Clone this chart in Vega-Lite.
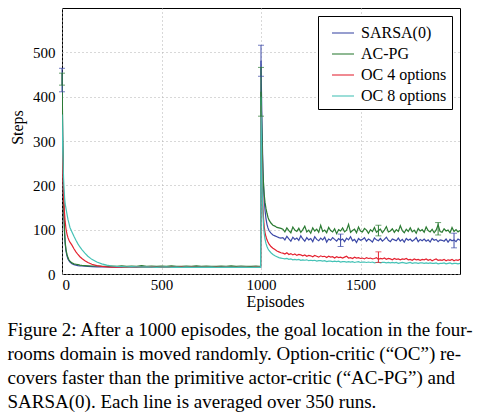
{
  "$schema": "https://vega.github.io/schema/vega-lite/v6.json",
  "width": 398,
  "height": 266,
  "autosize": "none",
  "padding": {"left": 62, "top": 8, "right": 31, "bottom": 145},
  "background": "white",
  "config": {
    "font": "Liberation Serif",
    "view": {"stroke": "black", "strokeWidth": 1},
    "axis": {
      "labelFont": "Liberation Serif",
      "labelFontSize": 15,
      "labelColor": "black",
      "titleFont": "Liberation Serif",
      "titleFontSize": 16,
      "titleFontWeight": "normal",
      "titleColor": "black",
      "grid": true,
      "gridColor": "#b0b0b0",
      "gridDash": [1, 3],
      "gridWidth": 1,
      "domain": false,
      "ticks": false
    },
    "legend": {
      "labelFont": "Liberation Serif",
      "labelFontSize": 16,
      "labelColor": "black"
    }
  },
  "title": {
    "text": [
      "Figure 2: After a 1000 episodes, the goal location in the four-",
      "rooms domain is moved randomly. Option-critic (“OC”) re-",
      "covers faster than the primitive actor-critic (“AC-PG”) and",
      "SARSA(0). Each line is averaged over 350 runs."
    ],
    "orient": "bottom",
    "anchor": "start",
    "frame": "bounds",
    "font": "Liberation Serif",
    "fontSize": 19,
    "fontWeight": "normal",
    "color": "black",
    "lineHeight": 24,
    "offset": 12,
    "dx": -2
  },
  "datasets": {
    "runs": [
      {"e":0,"s":450,"a":455,"o4":320,"o8":360},
      {"e":2,"s":370,"a":380,"o4":270,"o8":310},
      {"e":4,"s":290,"a":300,"o4":230,"o8":270},
      {"e":6,"s":220,"a":230,"o4":200,"o8":240},
      {"e":8,"s":165,"a":175,"o4":175,"o8":215},
      {"e":10,"s":128,"a":135,"o4":155,"o8":195},
      {"e":13,"s":90,"a":95,"o4":135,"o8":172},
      {"e":16,"s":68,"a":72,"o4":118,"o8":158},
      {"e":20,"s":52,"a":55,"o4":102,"o8":148},
      {"e":25,"s":41,"a":44,"o4":90,"o8":135},
      {"e":30,"s":34,"a":37,"o4":82,"o8":123},
      {"e":35,"s":30,"a":32,"o4":76,"o8":114},
      {"e":40,"s":27,"a":29,"o4":72,"o8":105},
      {"e":50,"s":23,"a":25,"o4":65,"o8":95},
      {"e":60,"s":21,"a":23,"o4":57,"o8":85},
      {"e":70,"s":20,"a":22,"o4":50,"o8":76},
      {"e":80,"s":19,"a":21,"o4":44,"o8":68},
      {"e":90,"s":18.5,"a":20,"o4":39,"o8":61},
      {"e":100,"s":18,"a":19.5,"o4":35,"o8":55},
      {"e":115,"s":17.5,"a":19,"o4":30,"o8":47},
      {"e":130,"s":17,"a":18.5,"o4":26,"o8":40},
      {"e":150,"s":16.5,"a":18,"o4":22,"o8":33},
      {"e":175,"s":16,"a":18,"o4":19,"o8":27},
      {"e":200,"s":16,"a":17.5,"o4":17,"o8":23},
      {"e":225,"s":16,"a":17.5,"o4":16,"o8":20},
      {"e":250,"s":15.5,"a":18,"o4":15.5,"o8":18},
      {"e":275,"s":16,"a":17,"o4":16,"o8":17},
      {"e":300,"s":15,"a":18.5,"o4":15.5,"o8":16.5},
      {"e":325,"s":16.5,"a":17,"o4":15,"o8":16},
      {"e":350,"s":15.5,"a":18,"o4":16,"o8":16.5},
      {"e":375,"s":15,"a":17.5,"o4":15.5,"o8":16},
      {"e":400,"s":16,"a":19,"o4":15,"o8":15.5},
      {"e":425,"s":15.5,"a":17,"o4":15.5,"o8":16},
      {"e":450,"s":15,"a":18,"o4":16,"o8":15.5},
      {"e":475,"s":16,"a":17.5,"o4":15,"o8":15},
      {"e":500,"s":15.5,"a":18,"o4":15.5,"o8":15.5},
      {"e":525,"s":15,"a":17,"o4":15,"o8":16},
      {"e":550,"s":15.5,"a":18.5,"o4":15.5,"o8":15},
      {"e":575,"s":16,"a":17.5,"o4":15,"o8":15.5},
      {"e":600,"s":15,"a":17,"o4":16,"o8":15},
      {"e":625,"s":15.5,"a":18,"o4":15,"o8":15.5},
      {"e":650,"s":15,"a":17.5,"o4":15.5,"o8":15},
      {"e":675,"s":16,"a":18.5,"o4":15,"o8":15},
      {"e":700,"s":15.5,"a":17,"o4":15.5,"o8":15.5},
      {"e":725,"s":15,"a":18,"o4":15,"o8":15},
      {"e":750,"s":15.5,"a":17.5,"o4":15,"o8":15.5},
      {"e":775,"s":15,"a":17,"o4":15.5,"o8":15},
      {"e":800,"s":16,"a":18,"o4":15,"o8":15},
      {"e":825,"s":15,"a":17.5,"o4":15.5,"o8":15.5},
      {"e":850,"s":15.5,"a":18.5,"o4":15,"o8":15},
      {"e":875,"s":15,"a":17,"o4":15,"o8":15},
      {"e":900,"s":15.5,"a":18,"o4":15.5,"o8":15.5},
      {"e":925,"s":15,"a":17.5,"o4":15,"o8":15},
      {"e":950,"s":15.5,"a":17,"o4":15,"o8":15},
      {"e":975,"s":15,"a":18,"o4":15.5,"o8":15},
      {"e":990,"s":15,"a":17.5,"o4":15,"o8":15},
      {"e":998,"s":15,"a":17.5,"o4":15,"o8":15},
      {"e":1000,"s":481,"a":411,"o4":380,"o8":400},
      {"e":1002,"s":420,"a":370,"o4":310,"o8":310},
      {"e":1004,"s":365,"a":330,"o4":250,"o8":240},
      {"e":1006,"s":315,"a":290,"o4":205,"o8":190},
      {"e":1008,"s":272,"a":255,"o4":172,"o8":157},
      {"e":1010,"s":235,"a":228,"o4":148,"o8":133},
      {"e":1013,"s":197,"a":200,"o4":124,"o8":108},
      {"e":1016,"s":168,"a":180,"o4":107,"o8":92},
      {"e":1020,"s":145,"a":162,"o4":94,"o8":79},
      {"e":1025,"s":125,"a":148,"o4":84,"o8":69},
      {"e":1030,"s":112,"a":137,"o4":77,"o8":62},
      {"e":1035,"s":104,"a":128,"o4":72,"o8":57},
      {"e":1040,"s":98,"a":122,"o4":68,"o8":53},
      {"e":1050,"s":92,"a":115,"o4":62,"o8":48},
      {"e":1060,"s":88,"a":110,"o4":58,"o8":44},
      {"e":1070,"s":86,"a":108,"o4":55,"o8":41},
      {"e":1080,"s":84,"a":105,"o4":52,"o8":39},
      {"e":1090,"s":82,"a":104,"o4":50,"o8":37},
      {"e":1100,"s":81,"a":103,"o4":48,"o8":36},
      {"e":1110,"s":82,"a":101,"o4":47,"o8":35},
      {"e":1120,"s":77,"a":95,"o4":45,"o8":34},
      {"e":1130,"s":85,"a":104,"o4":48,"o8":35},
      {"e":1140,"s":79,"a":98,"o4":44,"o8":33},
      {"e":1150,"s":74,"a":93,"o4":46,"o8":34},
      {"e":1160,"s":83,"a":106,"o4":43,"o8":32},
      {"e":1170,"s":78,"a":99,"o4":45,"o8":33},
      {"e":1180,"s":81,"a":96,"o4":42,"o8":32},
      {"e":1190,"s":76,"a":103,"o4":44,"o8":33},
      {"e":1200,"s":86,"a":94,"o4":43,"o8":31},
      {"e":1210,"s":79,"a":100,"o4":41,"o8":32},
      {"e":1220,"s":74,"a":108,"o4":43,"o8":31},
      {"e":1230,"s":82,"a":95,"o4":40,"o8":32},
      {"e":1240,"s":77,"a":99,"o4":42,"o8":30},
      {"e":1250,"s":80,"a":92,"o4":41,"o8":31},
      {"e":1260,"s":73,"a":104,"o4":39,"o8":30},
      {"e":1270,"s":84,"a":97,"o4":42,"o8":31},
      {"e":1280,"s":78,"a":101,"o4":40,"o8":29},
      {"e":1290,"s":75,"a":94,"o4":38,"o8":30},
      {"e":1300,"s":81,"a":110,"o4":41,"o8":30},
      {"e":1310,"s":77,"a":96,"o4":39,"o8":29},
      {"e":1320,"s":83,"a":99,"o4":40,"o8":30},
      {"e":1330,"s":72,"a":93,"o4":37,"o8":28},
      {"e":1340,"s":79,"a":105,"o4":40,"o8":29},
      {"e":1350,"s":76,"a":98,"o4":38,"o8":29},
      {"e":1360,"s":82,"a":95,"o4":39,"o8":28},
      {"e":1370,"s":78,"a":102,"o4":36,"o8":29},
      {"e":1380,"s":74,"a":91,"o4":39,"o8":28},
      {"e":1390,"s":80,"a":100,"o4":37,"o8":29},
      {"e":1400,"s":76,"a":97,"o4":38,"o8":27},
      {"e":1410,"s":79,"a":104,"o4":36,"o8":28},
      {"e":1420,"s":73,"a":95,"o4":38,"o8":28},
      {"e":1430,"s":81,"a":99,"o4":40,"o8":27},
      {"e":1440,"s":77,"a":112,"o4":36,"o8":28},
      {"e":1450,"s":84,"a":94,"o4":37,"o8":27},
      {"e":1460,"s":75,"a":98,"o4":35,"o8":28},
      {"e":1470,"s":78,"a":101,"o4":38,"o8":26},
      {"e":1480,"s":71,"a":93,"o4":36,"o8":27},
      {"e":1490,"s":80,"a":106,"o4":37,"o8":28},
      {"e":1500,"s":76,"a":97,"o4":35,"o8":26},
      {"e":1510,"s":78,"a":95,"o4":36,"o8":27},
      {"e":1520,"s":82,"a":103,"o4":34,"o8":27},
      {"e":1530,"s":74,"a":99,"o4":37,"o8":26},
      {"e":1540,"s":79,"a":92,"o4":35,"o8":27},
      {"e":1550,"s":76,"a":100,"o4":36,"o8":26},
      {"e":1560,"s":72,"a":96,"o4":34,"o8":27},
      {"e":1570,"s":81,"a":105,"o4":35,"o8":25},
      {"e":1580,"s":77,"a":94,"o4":37,"o8":26},
      {"e":1590,"s":75,"a":98,"o4":33,"o8":27},
      {"e":1600,"s":80,"a":101,"o4":35,"o8":25},
      {"e":1610,"s":74,"a":93,"o4":34,"o8":26},
      {"e":1620,"s":78,"a":99,"o4":36,"o8":26},
      {"e":1630,"s":83,"a":107,"o4":33,"o8":25},
      {"e":1640,"s":76,"a":95,"o4":35,"o8":26},
      {"e":1650,"s":73,"a":97,"o4":34,"o8":25},
      {"e":1660,"s":79,"a":102,"o4":32,"o8":26},
      {"e":1670,"s":77,"a":94,"o4":35,"o8":25},
      {"e":1680,"s":75,"a":100,"o4":33,"o8":26},
      {"e":1690,"s":81,"a":96,"o4":34,"o8":24},
      {"e":1700,"s":74,"a":109,"o4":32,"o8":25},
      {"e":1710,"s":78,"a":98,"o4":34,"o8":26},
      {"e":1720,"s":72,"a":93,"o4":33,"o8":25},
      {"e":1730,"s":80,"a":101,"o4":35,"o8":24},
      {"e":1740,"s":76,"a":96,"o4":32,"o8":25},
      {"e":1750,"s":79,"a":104,"o4":33,"o8":26},
      {"e":1760,"s":74,"a":95,"o4":31,"o8":24},
      {"e":1770,"s":77,"a":99,"o4":34,"o8":25},
      {"e":1780,"s":82,"a":92,"o4":32,"o8":25},
      {"e":1790,"s":73,"a":103,"o4":33,"o8":24},
      {"e":1800,"s":78,"a":97,"o4":31,"o8":25},
      {"e":1810,"s":75,"a":100,"o4":33,"o8":25},
      {"e":1820,"s":79,"a":94,"o4":32,"o8":24},
      {"e":1830,"s":74,"a":106,"o4":34,"o8":25},
      {"e":1840,"s":77,"a":98,"o4":31,"o8":24},
      {"e":1850,"s":72,"a":95,"o4":33,"o8":25},
      {"e":1860,"s":80,"a":101,"o4":30,"o8":24},
      {"e":1870,"s":76,"a":93,"o4":32,"o8":24},
      {"e":1880,"s":78,"a":99,"o4":34,"o8":25},
      {"e":1890,"s":73,"a":111,"o4":31,"o8":23},
      {"e":1900,"s":77,"a":96,"o4":32,"o8":24},
      {"e":1910,"s":76,"a":94,"o4":31,"o8":24},
      {"e":1920,"s":74,"a":102,"o4":33,"o8":25},
      {"e":1930,"s":79,"a":97,"o4":30,"o8":23},
      {"e":1940,"s":72,"a":99,"o4":32,"o8":24},
      {"e":1950,"s":78,"a":93,"o4":31,"o8":25},
      {"e":1960,"s":75,"a":105,"o4":33,"o8":23},
      {"e":1970,"s":77,"a":96,"o4":30,"o8":24},
      {"e":1980,"s":73,"a":100,"o4":32,"o8":24},
      {"e":1990,"s":79,"a":95,"o4":31,"o8":23},
      {"e":2000,"s":76,"a":98,"o4":33,"o8":24}
    ],
    "errs": [
      {"e":0,"k":"s","lo":411,"hi":464},
      {"e":0,"k":"a","lo":426,"hi":453},
      {"e":1000,"k":"s","lo":446,"hi":516},
      {"e":1000,"k":"a","lo":356,"hi":466},
      {"e":1400,"k":"s","lo":62,"hi":90},
      {"e":1590,"k":"a","lo":86,"hi":110},
      {"e":1590,"k":"o4","lo":26,"hi":50},
      {"e":1890,"k":"a","lo":88,"hi":116},
      {"e":1970,"k":"s","lo":59,"hi":92}
    ]
  },
  "encoding": {
    "x": {
      "field": "e", "type": "quantitative",
      "scale": {"domain": [0, 2000], "nice": false},
      "axis": {"values": [0, 500, 1000, 1500], "format": "d", "title": "Episodes", "labelFont": "Liberation Serif", "titleFont": "Liberation Serif", "labelPadding": 3, "titlePadding": 1, "titleX": 213}
    },
    "color": {
      "field": "k", "type": "nominal",
      "scale": {"domain": ["s", "a", "o4", "o8"], "range": ["#3b48a6", "#2b7b33", "#e42230", "#45c2b6"]},
      "legend": {
        "title": null,
        "orient": "top-right",
        "offset": 8,
        "strokeColor": "black",
        "fillColor": "white",
        "padding": 5,
        "rowPadding": 1,
        "symbolType": "stroke",
        "symbolSize": 484,
        "symbolStrokeWidth": 1.5,
        "symbolOffset": 8,
        "labelOffset": 6,
        "labelFont": "Liberation Serif",
        "labelFontSize": 16,
        "labelColor": "black",
        "labelLimit": 400,
        "labelExpr": "{'s': 'SARSA(0)', 'a': 'AC-PG', 'o4': 'OC 4 options', 'o8': 'OC 8 options'}[datum.label]"
      }
    }
  },
  "layer": [
    {
      "data": {"name": "runs"},
      "transform": [{"fold": ["s", "a", "o4", "o8"], "as": ["k", "steps"]}],
      "mark": {"type": "line", "strokeWidth": 1.2, "clip": true},
      "encoding": {
        "y": {
          "field": "steps", "type": "quantitative",
          "scale": {"domain": [0, 600], "nice": false},
          "axis": {"values": [0, 100, 200, 300, 400, 500], "format": "d", "title": "Steps", "labelFont": "Liberation Serif", "titleFont": "Liberation Serif", "labelPadding": 7, "titlePadding": 7, "titleY": 119}
        }
      }
    },
    {
      "data": {"name": "errs"},
      "mark": {"type": "rule", "strokeWidth": 1},
      "encoding": {
        "y": {"field": "lo", "type": "quantitative"},
        "y2": {"field": "hi"}
      }
    },
    {
      "data": {"name": "errs"},
      "mark": {"type": "tick", "orient": "horizontal", "size": 6, "thickness": 1},
      "encoding": {
        "y": {"field": "lo", "type": "quantitative"}
      }
    },
    {
      "data": {"name": "errs"},
      "mark": {"type": "tick", "orient": "horizontal", "size": 6, "thickness": 1},
      "encoding": {
        "y": {"field": "hi", "type": "quantitative"}
      }
    }
  ]
}
